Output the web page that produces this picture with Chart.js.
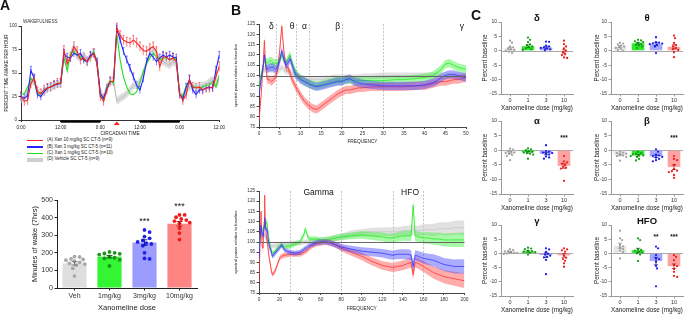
<!DOCTYPE html>
<html>
<head>
<meta charset="utf-8">
<title>Xanomeline wake and EEG spectra</title>
<script src="https://cdn.jsdelivr.net/npm/chart.js@4.4.1/dist/chart.umd.min.js"></script>
<style>
  html, body { margin: 0; padding: 0; background: #fff; }
  body { position: relative; width: 685px; height: 314px; overflow: hidden; font-family: 'Liberation Sans', Arial, sans-serif; }
  canvas { position: absolute; }
  .txt { position: absolute; white-space: nowrap; line-height: 1; color: #111; }
</style>
</head>
<body>
<script>
// ---- Panel A (top): percent time awake per hour, hour 0 .. 60
const circadianTicks = ['0:00', '12:00', '0:00', '12:00', '0:00', '12:00'];
const darkPeriods = [[12, 24], [36, 48]];
const doseHour = 29;
const wake10 = [25,20,21,39,44,30,28,32,34,35,37,39,39, 74,60,67,78,73,64,66,62,67,71,60,25, 20,32,41,41,98,90,85,83,82,85,82,78, 74,73,76,78,73,57,67,67,64,66,62,28, 21,27,43,35,34,35,32,34,34,35,46,57];
const wake3  = [25,23,26,53,44,27,25,30,34,35,37,38,39, 71,67,66,71,69,71,64,62,69,71,62,28, 23,34,41,41,97,85,73,64,55,46,37,32, 44,62,71,67,62,66,69,67,69,67,66,27, 23,35,43,32,27,32,32,34,35,34,53,69];
const wake1  = [28,28,35,44,42,27,28,32,34,35,37,39,39, 67,52,71,73,69,67,64,62,67,73,60,27, 21,35,42,39,92,64,46,35,28,27,30,40, 52,60,66,71,67,64,66,66,64,66,64,28, 25,37,41,35,35,34,35,37,37,41,35,48];
const wakeVeh = [22,22,30,42,40,30,28,30,33,36,36,38,38, 65,58,70,80,68,65,70,64,66,72,62,30, 24,36,40,42,20,23,25,28,32,37,37,41, 50,60,71,74,71,64,62,60,58,62,60,27, 25,32,35,37,35,35,37,37,41,43,37,43];
const wakeSem = [5, 4, 0, 4];
const wakeNames = ['(A) Xan 10 mg/kg SC CT-5 (n=9)', '(B) Xan 3 mg/kg SC CT-5 (n=11)', '(C) Xan 1 mg/kg SC CT-5 (n=10)', '(D) Vehicle SC CT-5 (n=9)'];

// ---- Panel A (bottom): minutes of wake (7 hrs)
const doseNames = ['Veh', '1mg/kg', '3mg/kg', '10mg/kg'];
const wakeMinutes = [140, 178, 258, 365];
const wakeMinutesSem = [10, 7, 16, 13];
const wakeMinVeh = [178, 176, 165, 162, 158, 152, 146, 140, 136, 130, 112, 68];
const wakeMin1 = [205, 200, 196, 194, 190, 178, 172, 168, 160, 125];
const wakeMin3 = [330, 318, 292, 282, 270, 262, 255, 250, 240, 200, 168, 165];
const wakeMin10 = [415, 415, 402, 392, 386, 380, 372, 368, 340, 312, 275];
const wakeMinStars = ['', '', '***', '***'];

// ---- Panel B: spectral power relative to baseline
const fTop = [0,0.5,1,1.3,1.6, 2,2.5,3,3.5,4, 4.5,5,5.5,6,6.5, 7,7.5,8,8.5,9, 10,11,12,13,14,15,16,17,18,19,20,21,22,23,24,25, 27,30,33,35,38, 40,42,43,44,45, 46,47,48,49,50];
const specTop10 = [78,90,105,117,105, 98,98,97,98,99, 103,112,124,112,104, 104,101,98,96,94, 90.5,87.5,85.5,84,83.5,85,86.5,88,89.5,91,92,93,93,93.5,94,94, 94.5,94.5,94.5,94.5,95, 95,96,96.5,97,97, 97.5,98,98,98.5,99];
const specTop3 = [90,98,104,110,105, 103,104,104,104,103, 104,107,112,108,105, 106,108,105,102,100, 98,97,96,95,94.5,95,95.5,96,96.5,97,97,98,98.5,97,96.5,96, 95.5,95,95,95,95, 95.5,96.5,97.5,99,100, 100.5,100.5,100,99.5,99];
const specTop1 = [93,100,105,108,107, 106,107,107,106,106, 106,108,110,108,106, 108,110,106,103,101, 98.5,97,96,95.5,95,95.5,96,96.5,97,97.5,97.5,98,98,97.5,97.5,97.5, 97.5,97.5,98,98,98.5, 99,100,101.5,103,105.5, 106,105,104,103.5,103];
const specTopVeh = [97,100,102,103,103, 103,103,103,102.5,102, 102,103,104,103,102, 102,102,101,100,99.5, 99,98.5,98,98,98,98,98.5,98.5,99,99,99,99,99,99,99,99.5, 99.5,100,100,100,100, 100,100,100,100,100, 100,100,100,100,100];
const semTop = [2, 2, 2, 1.5];
const bandTopNames = ['δ', 'θ', 'α', 'β', 'γ'];
const bandTopAt = [3, 8, 11, 19, 49];
const bandTopEdges = [4, 9, 12, 20, 30];

const fBottom = [0,1,2,3,4,5,5.5,6,7,8,9,10, 12,13,15,18,20,22,25,30,35,40, 44,45,46,48,50,55,60,65,70,75,80, 90,100,110,120,125,130,135,140,145,148, 150,152,155,160,165,170,175,180,185,190,195,200];
const specBot10 = [80,100,115,98,97,110,123,112,104,100,96,92, 86,84,85,89,92,93,93.5,94,94,94, 95,95.5,95.5,96.5,97.5,99,99.5,100,99.5,98.5,97, 95,93,90.5,88.5,88,87.5,88,88.5,89.5,90, 84,90,89.5,88,86.5,85,84,83,82.5,82,81.5,81];
const specBot3 = [92,102,108,104,103,107,112,108,106,106,101,98, 95,93,94,96,97,98.5,96,95,94.5,95, 96.5,97,97,98,98.5,99.5,100,100,99.5,98.5,97.5, 96.5,95.5,95,94.5,94,93.5,94,94,94,93.5, 88,93.5,93,92,91.5,91,90,89,88.5,88,88,88];
const specBot1 = [95,103,106,106,106,108,109,108,110,109,104,100, 96,94.5,95,97,98,98.5,97.5,98,99,100, 104,106.5,105,102,101.5,101.5,101,101,101.5,102,102.5, 103,103.5,103,102.5,102,102,102.5,103,103,103, 118,103,102.5,102,102,101.5,101.5,101,101,101,101,101];
const specBotVeh = [97,101,103,103,102,103,104,103,102,101,100,99, 98,98,98,98.5,98.5,99,99,99,99.5,99.5, 100,100,100,100,100.5,100.5,101,101,101.5,102,102.5, 104,104.5,105,105,105,105,105,105.5,105.5,105.5, 106,105.5,105.5,106,106,106,106.5,106.5,106.5,107,107,107];
const semBottom = [1.5,1.5,1.5,1.5,1.5,1.5,1.5,1.5,1.5,1.5,1.5,1.5, 1.2,1.2,1.2,1.2,1.2,1.2,1.2,1.2,1.2,1.2, 1.2,1.2,1.2,1.2,1.2,1.3,1.3,1.4,1.4,1.5,1.5, 1.7,1.9,2,2.1,2.2,2.2,2.3,2.4,2.5,2.5, 2.5,2.5,2.6,2.7,2.8,3,3.1,3.2,3.3,3.4,3.5,3.6];
const bandBotNames = ['Gamma', 'HFO'];
const bandBotAt = [58, 147];
const bandBotEdges = [30, 80, 130, 160];

// ---- Panel C: percent baseline per band, dose 0 / 1 / 3 / 10 mg/kg
const cDoses = ['0', '1', '3', '10'];
const deltaBars = [0.8, 1.6, 1.2, -0.2];
const deltaSem = [0.4, 0.45, 0.35, 0.6];
const deltaDots = [[3.5,2.8,1.5,1.2,0.8,0.5,0.3,0,-0.3,-0.8], [4.6,3.8,3,2.2,2,1.5,1.2,0.8,0.5,0.3], [3.2,3.1,1.8,1.5,1.2,1,0.8,0.5,0.2], [3.5,2.3,1.5,0.8,0,-0.5,-1.2,-1.5,-2.3,-2.5]];
const thetaBars = [1.5, 2.6, 2.3, 1.4];
const thetaSem = [0.3, 0.3, 0.5, 0.7];
const thetaDots = [[2.8,2.5,2.2,1.8,1.5,1.2,1,0.6,0.3,0], [3.8,3.6,3.3,3,2.7,2.4,2.1,1.8,1.5,1], [4.7,3,2.8,2.6,2.5,2.3,2.1,1.5,-0.8], [5.3,4.4,2.7,2,1.5,1,0.5,0.3,-0.5,-2.2]];
const alphaBars = [-0.9, -0.7, -1.2, -5.4];
const alphaSem = [0.35, 0.3, 0.4, 0.8];
const alphaDots = [[0.5,0.2,-0.2,-0.5,-0.8,-1,-1.2,-1.6,-2,-3.4], [0.6,0.3,0,-0.3,-0.6,-0.8,-1,-1.2,-1.5,-2.9], [1.7,-0.3,-0.5,-0.8,-1,-1.3,-1.5,-2.2,-2.5,-2.9], [-2,-3.8,-4.2,-4.6,-5.1,-5.7,-6,-6.3,-10.5]];
const betaBars = [-1.6, -1.8, -2.1, -5.8];
const betaSem = [0.3, 0.3, 0.4, 0.8];
const betaDots = [[-0.5,-0.8,-1,-1.2,-1.5,-1.8,-2,-2.3,-3.6], [-0.6,-1,-1.2,-1.4,-1.6,-1.8,-2,-2.3,-3,-3.5], [0.3,-0.5,-1.5,-1.8,-2,-2.3,-2.5,-3,-3.4,-3.8], [-2,-3,-3.4,-5,-6.5,-7,-7.2,-7.5,-8.5,-9.5]];
const gammaBars = [0.5, 0.7, -0.6, -0.7];
const gammaSem = [0.2, 0.25, 0.8, 0.65];
const gammaDots = [[1.5,1.2,0.9,0.7,0.5,0.3,0.2,0,-0.2], [2,1.7,1.5,1,0.8,0.6,0.4,0.2,-0.4], [1.8,1.4,0.5,-0.2,-0.4,-0.8,-1.2,-1.4,-2.3,-7.3], [1.8,1.4,1.1,0.6,-0.8,-1.5,-2,-2.6,-3.5,-4.7]];
const hfoBars = [2.7, 1.1, -2.7, -4.5];
const hfoSem = [0.9, 0.7, 1.3, 0.8];
const hfoDots = [[8,5.3,4.7,3,2.5,2,1.5,1,0.5,-1.8], [5.3,4.7,1.5,1.2,1,0.6,0.3,0,-0.4,-2.7], [2.4,1.8,-0.6,-1.8,-2,-3,-4.4,-5.3,-11.6], [-0.6,-1.2,-2.4,-4.1,-4.5,-5.5,-6.5,-7.9,-8.3]];
const noStars = ['', '', '', ''];
const tenStars = ['', '', '', '***'];
const hfoStars = ['', '', '**', '***'];

// colours
const RED = '#ff2121', BLUE = '#2424ff', GREEN = '#1ee01e', GREY = '#c4c4c4';

Chart.defaults.font.family = "'Liberation Sans', Arial, sans-serif";
Chart.defaults.color = '#222';

// draws the dots, mean +/- SEM and stars on the bar charts
const swarm = {
  id: 'swarm',
  beforeDatasetsDraw(chart, args, o) {
    if (!o || !o.groups || !o.zero) return;
    const { ctx, chartArea: a, scales: { y } } = chart;
    const y0 = Math.round(y.getPixelForValue(0)) + 0.5;
    ctx.save();
    ctx.strokeStyle = o.zero; ctx.lineWidth = 1;
    ctx.beginPath(); ctx.moveTo(a.left, y0); ctx.lineTo(a.right, y0); ctx.stroke();
    ctx.restore();
  },
  afterDatasetsDraw(chart, args, o) {
    if (!o || !o.groups) return;
    const { ctx, scales: { x, y } } = chart;
    const bars = chart.data.datasets[0].data;
    ctx.save();
    o.groups.forEach((vals, i) => {
      const cx = x.getPixelForValue(i);
      const d = o.r * 2 + 0.3;
      const placed = [];
      ctx.fillStyle = o.dotColors[i];
      vals.slice().sort((p, q) => q - p).forEach(v => {
        const py = y.getPixelForValue(v);
        let px = cx;
        for (let k = 0; k < 40; k++) {
          const tx = cx + (k % 2 ? 1 : -1) * Math.ceil(k / 2) * o.r * 0.9;
          if (placed.every(p => (p[0] - tx) ** 2 + (p[1] - py) ** 2 >= d * d)) { px = tx; break; }
        }
        placed.push([px, py]);
        ctx.beginPath(); ctx.arc(px, py, o.r, 0, Math.PI * 2); ctx.fill();
      });
      // mean +/- SEM
      const m = bars[i], s = o.sem[i];
      const yt = y.getPixelForValue(m + s), yb = y.getPixelForValue(m - s);
      ctx.strokeStyle = o.errColors[i]; ctx.lineWidth = o.errWidth;
      ctx.beginPath();
      ctx.moveTo(cx, yt); ctx.lineTo(cx, yb);
      ctx.moveTo(cx - o.cap, yt); ctx.lineTo(cx + o.cap, yt);
      ctx.moveTo(cx - o.cap, yb); ctx.lineTo(cx + o.cap, yb);
      ctx.stroke();
      if (o.stars[i]) {
        const sy = o.starLevel !== null ? y.getPixelForValue(o.starLevel) : y.getPixelForValue(Math.max(...vals)) - o.starGap;
        ctx.fillStyle = '#111'; ctx.font = o.starFont;
        ctx.textAlign = 'center'; ctx.textBaseline = 'middle';
        ctx.fillText(o.stars[i], cx, sy);
      }
    });
    ctx.restore();
  }
};

// vertical whiskers for the hourly time course
const whiskers = {
  id: 'whiskers',
  beforeDatasetsDraw(chart) {
    const { ctx, scales: { y } } = chart;
    chart.data.datasets.forEach((ds, di) => {
      if (!ds.sem) return;
      const meta = chart.getDatasetMeta(di);
      ctx.save();
      ctx.strokeStyle = ds.borderColor; ctx.lineWidth = 0.6;
      ctx.beginPath();
      meta.data.forEach((pt, i) => {
        const v = ds.data[i].y;
        const y1 = y.getPixelForValue(v + ds.sem), y0 = y.getPixelForValue(v - ds.sem);
        ctx.moveTo(pt.x, y0); ctx.lineTo(pt.x, y1);
        ctx.moveTo(pt.x - 1, y1); ctx.lineTo(pt.x + 1, y1);
      });
      ctx.stroke();
      ctx.restore();
    });
  }
};

// dark phase bars and dosing marker under the time axis
const circadian = {
  id: 'circadian',
  afterDraw(chart, args, o) {
    if (!o || !o.dark) return;
    const { ctx, chartArea: a, scales: { x } } = chart;
    ctx.save();
    ctx.fillStyle = '#000';
    o.dark.forEach(p => {
      const x0 = x.getPixelForValue(p[0]), x1 = x.getPixelForValue(p[1]);
      ctx.fillRect(x0, a.bottom + 0.5, x1 - x0, 2.2);
    });
    const xd = x.getPixelForValue(o.dose);
    ctx.fillStyle = '#ff1a1a';
    ctx.beginPath();
    ctx.moveTo(xd - 3, a.bottom + 5); ctx.lineTo(xd + 3, a.bottom + 5); ctx.lineTo(xd, a.bottom + 1.5);
    ctx.fill();
    ctx.restore();
  }
};

// frequency band boundaries, names and the 100 % line
const bandMarks = {
  id: 'bandMarks',
  beforeDatasetsDraw(chart, args, o) {
    if (!o || !o.edges) return;
    const { ctx, chartArea: a, scales: { x } } = chart;
    ctx.save();
    ctx.strokeStyle = '#b5b5b5'; ctx.lineWidth = 0.8; ctx.setLineDash([2, 1.5]);
    o.edges.forEach(f => {
      const px = Math.round(x.getPixelForValue(f)) + 0.5;
      ctx.beginPath(); ctx.moveTo(px, a.top); ctx.lineTo(px, a.bottom); ctx.stroke();
    });
    ctx.restore();
  },
  afterDatasetsDraw(chart, args, o) {
    if (!o || !o.edges) return;
    const { ctx, chartArea: a, scales: { x, y } } = chart;
    ctx.save();
    const yb = Math.round(y.getPixelForValue(o.baseline)) + 0.5;
    ctx.strokeStyle = '#666'; ctx.lineWidth = 1;
    ctx.beginPath(); ctx.moveTo(a.left, yb); ctx.lineTo(a.right, yb); ctx.stroke();
    ctx.fillStyle = '#111'; ctx.font = o.font;
    ctx.textAlign = 'center'; ctx.textBaseline = 'middle';
    o.names.forEach((n, i) => ctx.fillText(n, x.getPixelForValue(o.at[i]), a.top + o.dy));
    ctx.restore();
  }
};

Chart.register(swarm, whiskers, circadian, bandMarks);

function placeCanvas(left, top, w, h) {
  const c = document.createElement('canvas');
  c.width = w; c.height = h;
  c.style.left = left + 'px'; c.style.top = top + 'px';
  c.style.width = w + 'px'; c.style.height = h + 'px';
  document.body.appendChild(c);
  return c.getContext('2d');
}

function addText(text, left, top, css) {
  const d = document.createElement('div');
  d.className = 'txt';
  d.textContent = text;
  d.style.left = left + 'px'; d.style.top = top + 'px';
  d.style.cssText += css;
  document.body.appendChild(d);
  return d;
}

function pts(xs, ys) { return ys.map((v, i) => ({ x: xs[i], y: v })); }

function axisY(min, max, step, size, title, titleSize, titlePad, width, color) {
  return {
    min: min, max: max,
    ticks: { stepSize: step, font: { size: size }, color: '#333', padding: 1.5, autoSkip: false },
    grid: { drawOnChartArea: false, tickLength: 2.5, tickColor: color },
    border: { color: color, width: 1 },
    title: { display: true, text: title, font: { size: titleSize }, color: '#222', padding: { top: titlePad, bottom: 0 } },
    afterFit: s => { s.width = width; }
  };
}

// ---------------- Panel A top ----------------
const hours = wake10.map((v, i) => i);
function wakeLine(vals, color, sem) {
  return { data: pts(hours, vals), borderColor: color, borderWidth: 1.1, pointRadius: 0, sem: sem, fill: false };
}
new Chart(placeCanvas(0, 14, 228, 123), {
  type: 'line',
  data: { datasets: [
    wakeLine(wake10, RED, wakeSem[0]),
    wakeLine(wake3, BLUE, wakeSem[1]),
    wakeLine(wake1, GREEN, wakeSem[2]),
    { data: pts(hours, wakeVeh), borderColor: '#bdbdbd', borderWidth: 1, pointRadius: 0, fill: false },
    { data: pts(hours, wakeVeh.map(v => v + wakeSem[3])), borderColor: 'transparent', backgroundColor: 'rgba(196,196,196,0.6)', pointRadius: 0, fill: '+1' },
    { data: pts(hours, wakeVeh.map(v => v - wakeSem[3])), borderColor: 'transparent', pointRadius: 0, fill: false }
  ] },
  options: {
    responsive: false, animation: false,
    elements: { line: { tension: 0 } },
    layout: { padding: { top: 12, right: 6, left: 0, bottom: 0 } },
    plugins: { legend: { display: false }, tooltip: { enabled: false }, circadian: { dark: darkPeriods, dose: doseHour } },
    scales: {
      x: {
        type: 'linear', min: 0, max: 60,
        ticks: { stepSize: 12, autoSkip: false, maxRotation: 0, font: { size: 4.6 }, color: '#222', padding: 3,
                 callback: v => circadianTicks[v / 12] },
        grid: { drawOnChartArea: false, tickLength: 2, tickColor: '#333' },
        border: { color: '#333' },
        title: { display: true, text: 'CIRCADIAN TIME', font: { size: 4.8 }, color: '#222', padding: 0 },
        afterFit: s => { s.height = 17; }
      },
      y: axisY(0, 100, 25, 4.6, 'PERCENT TIME AWAKE PER HOUR', 4.6, 4.2, 21, '#333')
    }
  }
});

addText('WAKEFULNESS', 23, 20.3, 'font-size:4.6px;color:#333;');
const legendColors = [RED, BLUE, GREEN, '#cfcfcf'];
const legendThick = [1.6, 1.6, 1.6, 4];
wakeNames.forEach((n, i) => {
  const cy = 140.5 + i * 6.4;
  const sw = document.createElement('div');
  sw.style.cssText = 'position:absolute;left:27px;width:16px;top:' + (cy - legendThick[i] / 2) + 'px;height:' + legendThick[i] + 'px;background:' + legendColors[i] + ';';
  document.body.appendChild(sw);
  addText(n, 47, cy - 2.4, 'font-size:4.5px;color:#222;');
});

// ---------------- Panel A bottom ----------------
function barSwarm(c) {
  return new Chart(placeCanvas(c.left, c.top, c.w, c.h), {
    type: 'bar',
    data: { labels: c.labels, datasets: [{ data: c.bars, backgroundColor: c.barColors, borderWidth: 0, barPercentage: c.barPct, categoryPercentage: 1 }] },
    options: {
      responsive: false, animation: false,
      layout: { padding: { top: c.padTop, right: c.padRight, left: 0, bottom: c.padBottom } },
      plugins: {
        legend: { display: false }, tooltip: { enabled: false },
        swarm: { groups: c.dots, sem: c.sem, dotColors: c.dotColors, errColors: c.errColors, errWidth: c.errWidth, r: c.r, cap: c.cap,
                 stars: c.stars, starLevel: c.starLevel, starGap: c.starGap, starFont: c.starFont, zero: c.zero }
      },
      scales: {
        x: {
          ticks: { font: { size: c.xTickSize }, color: '#333', padding: 1, autoSkip: false, maxRotation: 0 },
          grid: { drawOnChartArea: false, offset: false, tickLength: 2.5, tickColor: c.axisColor },
          border: { color: c.axisColor },
          title: { display: true, text: c.xTitle, font: { size: c.titleSize }, color: '#222', padding: 0 },
          afterFit: s => { s.height = c.xh; }
        },
        y: axisY(c.yMin, c.yMax, c.yStep, c.yTickSize, c.yTitle, c.titleSize, c.yTitlePad, c.yw, c.axisColor)
      }
    }
  });
}

barSwarm({
  left: 30, top: 190, w: 172, h: 124, padTop: 10, padRight: 5, padBottom: 2, yw: 27, xh: 24,
  labels: doseNames, bars: wakeMinutes, sem: wakeMinutesSem,
  dots: [wakeMinVeh, wakeMin1, wakeMin3, wakeMin10],
  barColors: ['#dedede', '#33f533', '#9c9cff', '#ff8585'],
  dotColors: ['#a8a8a8', '#1a941a', '#2020e8', '#f01c1c'],
  errColors: ['#777777', '#0e5e0e', '#1414a0', '#b01010'],
  barPct: 0.69, r: 1.9, cap: 3, errWidth: 0.9,
  stars: wakeMinStars, starLevel: null, starGap: 8, starFont: '9px Liberation Sans', zero: null,
  yMin: 0, yMax: 500, yStep: 100, yTickSize: 7, xTickSize: 7, titleSize: 7.5, yTitlePad: 0.5,
  yTitle: 'Minutes of wake (7hrs)', xTitle: 'Xanomeline dose', axisColor: '#222'
});

// ---------------- Panel B ----------------
function spectrum(left, top, w, h, xh, freq, series, xMax, xStep, marks) {
  const datasets = [];
  series.forEach(s => {
    const sem = i => Array.isArray(s.sem) ? s.sem[i] : s.sem;
    datasets.push({ data: pts(freq, s.vals), borderColor: s.line, borderWidth: 0.8, pointRadius: 0, fill: false });
    datasets.push({ data: pts(freq, s.vals.map((v, i) => v + sem(i))), borderColor: 'transparent', backgroundColor: s.band, pointRadius: 0, fill: '+1' });
    datasets.push({ data: pts(freq, s.vals.map((v, i) => v - sem(i))), borderColor: 'transparent', pointRadius: 0, fill: false });
  });
  return new Chart(placeCanvas(left, top, w, h), {
    type: 'line',
    data: { datasets: datasets },
    options: {
      responsive: false, animation: false,
      elements: { line: { tension: 0 } },
      layout: { padding: { top: 10, right: 5, left: 0, bottom: 0 } },
      plugins: { legend: { display: false }, tooltip: { enabled: false }, bandMarks: marks },
      scales: {
        x: {
          type: 'linear', min: 0, max: xMax,
          ticks: { stepSize: xStep, autoSkip: false, maxRotation: 0, font: { size: 4.8 }, color: '#333', padding: 1.5 },
          grid: { drawOnChartArea: false, tickLength: 2, tickColor: '#444' },
          border: { color: '#444' },
          title: { display: true, text: 'FREQUENCY', font: { size: 4.8 }, color: '#222', padding: 0 },
          afterFit: s => { s.height = xh; }
        },
        y: axisY(75, 125, 5, 4.6, 'spectral power relative to baseline', 4.2, 5.5, 31, '#444')
      }
    }
  });
}

spectrum(228, 14, 243, 131, 18, fTop, [
  { vals: specTop3, sem: semTop[1], line: '#3a3aff', band: 'rgba(70,70,255,0.45)' },
  { vals: specTop10, sem: semTop[0], line: '#ff3232', band: 'rgba(255,70,70,0.45)' },
  { vals: specTop1, sem: semTop[2], line: '#22ee22', band: 'rgba(60,240,60,0.45)' },
  { vals: specTopVeh, sem: semTop[3], line: '#c8c8c8', band: 'rgba(200,200,200,0.55)' }
], 50, 5, { edges: bandTopEdges, names: bandTopNames, at: bandTopAt, baseline: 100, font: '8.5px Liberation Sans', dy: 3 });

spectrum(228, 181, 242, 131, 19, fBottom, [
  { vals: specBot3, sem: semBottom, line: '#3a3aff', band: 'rgba(70,70,255,0.45)' },
  { vals: specBot10, sem: semBottom, line: '#ff3232', band: 'rgba(255,70,70,0.45)' },
  { vals: specBot1, sem: semBottom, line: '#22ee22', band: 'rgba(60,240,60,0.45)' },
  { vals: specBotVeh, sem: semBottom, line: '#c8c8c8', band: 'rgba(200,200,200,0.55)' }
], 200, 20, { edges: bandBotEdges, names: bandBotNames, at: bandBotAt, baseline: 100, font: '8.5px Liberation Sans', dy: 2 });

// ---------------- Panel C ----------------
const cPanels = [
  { name: 'δ', col: 0, row: 0, bars: deltaBars, sem: deltaSem, dots: deltaDots, stars: noStars, starLevel: null },
  { name: 'θ', col: 1, row: 0, bars: thetaBars, sem: thetaSem, dots: thetaDots, stars: noStars, starLevel: null },
  { name: 'α', col: 0, row: 1, bars: alphaBars, sem: alphaSem, dots: alphaDots, stars: tenStars, starLevel: 4 },
  { name: 'β', col: 1, row: 1, bars: betaBars, sem: betaSem, dots: betaDots, stars: tenStars, starLevel: 4 },
  { name: 'γ', col: 0, row: 2, bars: gammaBars, sem: gammaSem, dots: gammaDots, stars: noStars, starLevel: null },
  { name: 'HFO', col: 1, row: 2, bars: hfoBars, sem: hfoSem, dots: hfoDots, stars: hfoStars, starLevel: 5.7 }
];
const rowArea = [[22, 94], [121, 194], [225, 296]];
const colGeom = [{ left: 478, w: 99, yw: 23, padRight: 4 }, { left: 590, w: 95, yw: 21, padRight: 2 }];
const titleY = [18, 120.5, 220.5];

cPanels.forEach(p => {
  const g = colGeom[p.col], r = rowArea[p.row];
  const top = r[0] - 8;
  barSwarm({
    left: g.left, top: top, w: g.w, h: r[1] + 18 - top, padTop: 8, padRight: g.padRight, padBottom: 0, yw: g.yw, xh: 18,
    labels: cDoses, bars: p.bars, sem: p.sem, dots: p.dots,
    barColors: ['#e6e6e6', '#2ee82e', '#a6a6ff', '#ffa2a2'],
    dotColors: ['#a3a3a3', '#15a015', '#2020ee', '#ee2020'],
    errColors: ['#8a8a8a', '#0e700e', '#1818b0', '#c01414'],
    barPct: 0.7, r: 1.15, cap: 2.2, errWidth: 0.7,
    stars: p.stars, starLevel: p.starLevel, starGap: 6, starFont: 'bold 6.5px Liberation Sans', zero: '#a8a8a8',
    yMin: -15, yMax: 10, yStep: 5, yTickSize: 5, xTickSize: 5.5, titleSize: 6.3, yTitlePad: 3,
    yTitle: 'Percent baseline', xTitle: 'Xanomeline dose (mg/kg)', axisColor: '#9a9a9a'
  });
  const cx = g.left + g.yw + (g.w - g.yw - g.padRight) / 2;
  addText(p.name, cx, titleY[p.row], 'font-size:9.5px;font-weight:bold;transform:translate(-50%,-50%);');
});

// panel letters
addText('A', 0, -2, 'font-size:14px;font-weight:bold;');
addText('B', 231, 3, 'font-size:14px;font-weight:bold;');
addText('C', 471, 8, 'font-size:14px;font-weight:bold;');
</script>
</body>
</html>
